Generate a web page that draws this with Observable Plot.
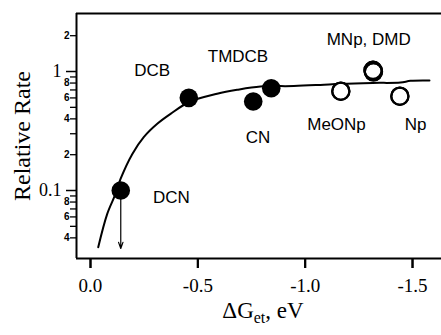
<!DOCTYPE html>
<html><head><meta charset="utf-8">
<script src="https://cdn.jsdelivr.net/npm/d3@7"></script>
<script src="https://cdn.jsdelivr.net/npm/@observablehq/plot@0.6"></script>
<style>body{margin:0;background:#fff}#ov{position:fixed;left:0;top:0;width:1px;height:1px;pointer-events:none;font-size:1px;color:transparent}</style>
</head><body><div id="chart"></div><div id="ov">&nbsp;</div>
<script>
// Data points (ΔG_et in eV, relative rate)
const compounds = ["DCN","DCB","CN","TMDCB","MeONp","MNp","DMD","Np"];
const deltaG    = [-0.141,-0.458,-0.758,-0.842,-1.166,-1.316,-1.318,-1.441];
const relRate   = [0.100,0.601,0.560,0.724,0.683,1.025,0.995,0.620];
const filled    = [true,true,true,true,false,false,false,false];

// Fitted curve
const curveDG   = [-0.036,-0.078,-0.117,-0.140,-0.195,-0.248,-0.311,-0.373,-0.458,-0.590,-0.683,-0.792,-0.947,-1.071,-1.165,-1.314,-1.444,-1.491,-1.579];
const curveRate = [0.0334,0.0637,0.094,0.125,0.203,0.281,0.364,0.441,0.552,0.650,0.702,0.748,0.755,0.772,0.788,0.802,0.808,0.835,0.840];

// Annotations (in data units)
const labelText = ["DCN","DCB","CN","TMDCB","MeONp","MNp, DMD","Np"];
const labelDG   = [-0.377,-0.287,-0.780,-0.687,-1.146,-1.296,-1.514];
const labelRate = [0.0865,1.02,0.2805,1.337,0.3586,1.857,0.3586];
const arrowDG = -0.141, arrowFrom = 0.1, arrowTo = 0.0326;

// Axes
const xDomain = [0.0652, -1.635];
const yDomain = [0.02683, 3.073];
const xTicks = [0, -0.5, -1.0, -1.5];
const yTicksMinor = [2,0.9,0.8,0.7,0.6,0.5,0.4,0.3,0.2,0.09,0.08,0.07,0.06,0.05,0.04];
const yTicksMajor = [1, 0.1];
const yMinorLabelAt = [2,0.8,0.6,0.4,0.2,0.08,0.06,0.04];
const yMinorLabel   = ["2","8","6","4","2","8","6","4"];
const yMajorLabel   = ["1","0.1"];

const points = compounds.map((c,i)=>({c, dG: deltaG[i], rate: relRate[i], filled: filled[i]}));
const curve = curveDG.map((d,i)=>({dG: d, rate: curveRate[i]}));
const labels = labelText.map((t,i)=>({t, dG: labelDG[i], rate: labelRate[i]}));
const minorLabels = yMinorLabelAt.map((v,i)=>({v, t: yMinorLabel[i]}));
const majorLabels = yTicksMajor.map((v,i)=>({v, t: yMajorLabel[i]}));
const XLABEL = "ΔG_et, eV";

const serif = "Liberation Serif";
const sans = "Liberation Sans";
const W = 441, H = 335, ML = 76, MR = 0, MT = 13, MB = 77;
const frameW = W - ML - MR, frameH = H - MT - MB;

const chart = Plot.plot({
  width: W, height: H,
  marginLeft: ML, marginRight: MR, marginTop: MT, marginBottom: MB,
  x: {domain: xDomain},
  y: {type: "log", domain: yDomain, axis: null},
  marks: [
    // x tick labels
    Plot.axisX({ticks: xTicks, tickFormat: d => d.toFixed(1), tickSize: 10, tickPadding: 10,
      strokeWidth: 2, fontSize: 19, fontFamily: serif, label: null}),
    // tick marks drawn as short rules outside the frame
    Plot.ruleX(xTicks, {insetTop: frameH - 10, dy: 10, strokeWidth: 2}),
    Plot.ruleY(yTicksMinor, {insetRight: frameW - 6, dx: -6, strokeWidth: 1.3}),
    Plot.ruleY(yTicksMajor, {insetRight: frameW - 10, dx: -10, strokeWidth: 1.5}),
    // y tick labels
    Plot.text(minorLabels, {y: "v", text: "t", frameAnchor: "left", textAnchor: "end", dx: -7,
      fontSize: 10, fontWeight: "bold", fontFamily: sans}),
    Plot.text(majorLabels, {y: "v", text: "t", frameAnchor: "left", textAnchor: "end", dx: -15,
      fontSize: 18, fontFamily: serif}),
    // frame (left, top, bottom)
    Plot.ruleX([xDomain[0]], {strokeWidth: 2}),
    Plot.ruleY(yDomain, {strokeWidth: 2}),
    // data
    Plot.line(curve, {x: "dG", y: "rate", strokeWidth: 2, curve: "catmull-rom"}),
    Plot.arrow([{x: arrowDG, y1: arrowFrom, y2: arrowTo}], {x: "x", y1: "y1", y2: "y2", strokeWidth: 1.2, headLength: 8, headAngle: 40}),
    Plot.dot(points.filter(d => d.filled), {x: "dG", y: "rate", r: 9.3, fill: "black"}),
    Plot.dot(points.filter(d => !d.filled), {x: "dG", y: "rate", r: 8.6, fill: "white", stroke: "black", strokeWidth: 2.2}),
    Plot.dot(points.filter(d => !d.filled), {x: "dG", y: "rate", r: 8.6, fill: "none", stroke: "black", strokeWidth: 2.2}),
    Plot.text(labels, {x: "dG", y: "rate", text: "t", fontSize: 17, fontFamily: sans}),
    // axis titles
    Plot.text(["Relative Rate"], {text: d => d, frameAnchor: "left", textAnchor: "middle", dx: -54, rotate: -90, fontSize: 24, fontFamily: serif}),
    Plot.text([XLABEL], {text: d => d, frameAnchor: "bottom", textAnchor: "middle", dy: 59, dx: 4, fontSize: 23, fontFamily: serif})
  ]
});
document.getElementById("chart").appendChild(chart);

// Subscript in the x label
d3.select(chart).selectAll("text").filter(function(){ return this.textContent === XLABEL; }).each(function() {
  const el = d3.select(this);
  el.text("");
  el.append("tspan").text("ΔG");
  el.append("tspan").attr("font-size", 16).attr("dy", 5).text("et");
  el.append("tspan").attr("dy", -5).text(", eV");
});
</script>
</body></html>
